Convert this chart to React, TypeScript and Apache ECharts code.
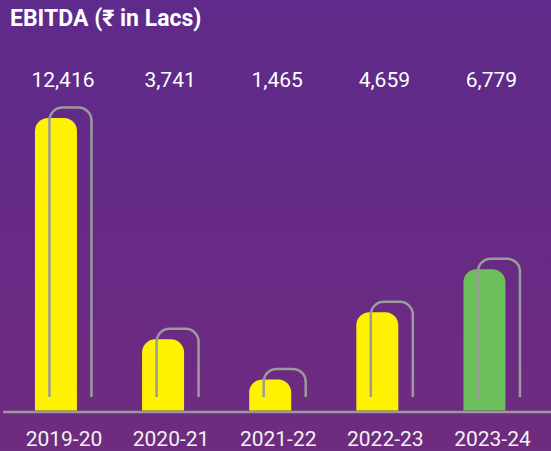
import React, { useEffect, useRef } from "react";
import * as echarts from "echarts";

const years = ["2019-20", "2020-21", "2021-22", "2022-23", "2023-24"];
// EBITDA figures printed above the bars (₹ in Lacs)
const ebitda = [12416, 3741, 1465, 4659, 6779];
// bar lengths as drawn in the reference, on the ₹ Lacs scale of the first bar
const barLengths = [12416, 3020, 1320, 4170, 6000];
const barColors = ["#FFF200", "#FFF200", "#FFF200", "#FFF200", "#6CBF5B"];

export default function App() {
  const ref = useRef<HTMLDivElement>(null);
  useEffect(() => {
    if (!ref.current) return;
    const chart = echarts.init(ref.current, null, { renderer: "svg" });
    const font = "Roboto, 'Noto Sans', sans-serif";
    chart.setOption({
      animation: false,
      backgroundColor: {
        type: "linear",
        x: 0,
        y: 0,
        x2: 0,
        y2: 1,
        colorStops: [
          { offset: 0, color: "#5E2A8B" },
          { offset: 1, color: "#6F2B80" },
        ],
      },
      title: {
        text: "EBITDA (₹ in Lacs)",
        left: 5,
        top: 2,
        textStyle: { color: "#ffffff", fontSize: 23, fontWeight: "bold", fontFamily: font },
      },
      grid: { left: 10.4, right: 5, top: 118, bottom: 40.5 },
      xAxis: {
        type: "category",
        data: years,
        axisLine: { show: false },
        axisTick: { show: false },
        axisLabel: { color: "#F2F2F2", fontSize: 21, fontFamily: font, margin: 18 },
      },
      yAxis: { type: "value", min: 0, max: 12416, show: false, splitLine: { show: false } },
      graphic: [
        {
          type: "line",
          shape: { x1: 3, y1: 412, x2: 551, y2: 412 },
          style: { stroke: "#9A9A9A", lineWidth: 2.5 },
        },
      ],
      series: [
        {
          type: "custom",
          clip: false,
          data: barLengths.map((v, i) => [i, v, ebitda[i]]),
          renderItem: (params: any, api: any) => {
            const i = api.value(0);
            const v = api.value(1);
            const lab = api.value(2);
            const base = api.coord([i, 0]);
            const top = api.coord([i, v]);
            const cx = base[0];
            const bl = cx - 29;
            const bw = 42;
            const by = base[1];
            const ty = top[1];
            const r = 13;
            const ol = bl + 14.5;
            const or = bl + bw + 14.5;
            const ot = ty - 10.5;
            const ob = by - 13.5;
            const path =
              `M${ol} ${ob} L${ol} ${ot + r} A${r} ${r} 0 0 1 ${ol + r} ${ot} ` +
              `L${or - r} ${ot} A${r} ${r} 0 0 1 ${or} ${ot + r} L${or} ${ob}`;
            return {
              type: "group",
              children: [
                {
                  type: "rect",
                  shape: { x: bl, y: ty, width: bw, height: by - ty, r: [r, r, 0, 0] },
                  style: { fill: barColors[i] },
                },
                {
                  type: "path",
                  shape: { pathData: path },
                  style: { fill: "none", stroke: "#9B9B9B", lineWidth: 2.5 },
                },
                {
                  type: "text",
                  style: {
                    text: Number(lab).toLocaleString("en-US"),
                    x: cx - 1,
                    y: 79.5,
                    fill: "#ffffff",
                    fontSize: 21,
                    fontFamily: font,
                    align: "center",
                    verticalAlign: "middle",
                  },
                },
              ],
            };
          },
        },
      ],
    });
    return () => chart.dispose();
  }, []);
  return (
    <div
      ref={ref}
      style={{ position: "fixed", left: 0, top: 0, width: 551, height: 451 }}
    />
  );
}
